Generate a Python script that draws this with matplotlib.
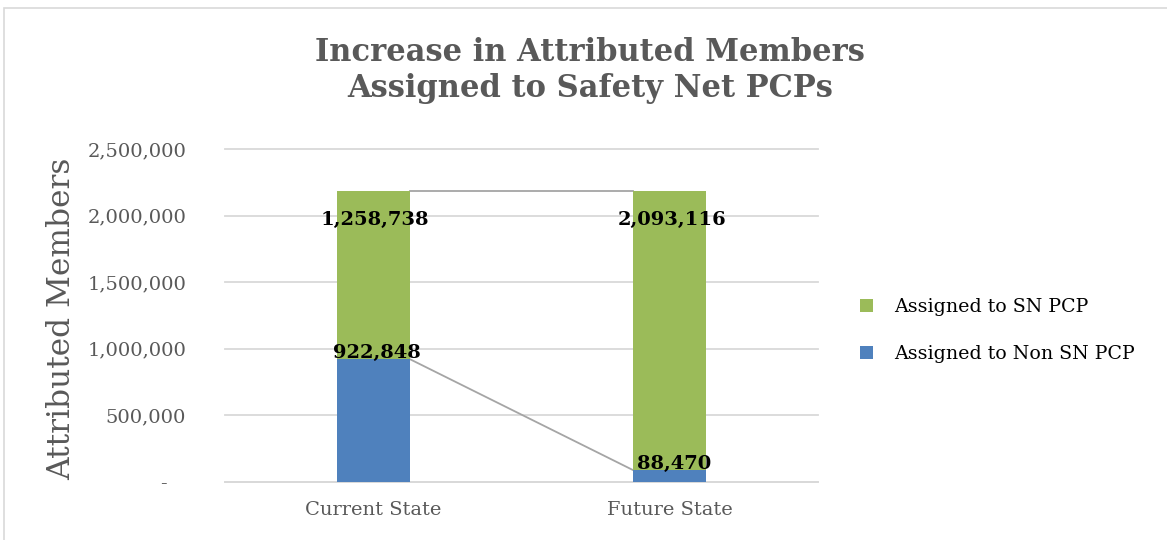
import matplotlib.pyplot as plt
from matplotlib.patches import Rectangle
from matplotlib.ticker import FuncFormatter

# data
categories = ['Current State', 'Future State']
non_sn_pcp = [922848, 88470]
sn_pcp = [1258738, 2093116]
series_names = ['Assigned to Non SN PCP', 'Assigned to SN PCP']

green = '#9BBB59'
blue = '#4F81BD'
grey_txt = '#595959'

plt.rcParams['font.family'] = ['DejaVu Serif']

W, H = 1167, 540
fig = plt.figure(figsize=(W / 100, H / 100), dpi=100)

# light frame round the chart area (cut off at right and bottom)
fig.patches.append(Rectangle((4 / W, -0.1), 1.2, 1 - 8 / H + 0.1, transform=fig.transFigure,
                             fill=False, edgecolor='#D9D9D9', linewidth=1.2))

ax = fig.add_axes([225 / W, (H - 482) / H, (818 - 225) / W, (482 - 149) / H])

x = list(range(len(categories)))
width = 0.246
b1 = ax.bar(x, non_sn_pcp, width, color=blue, label=series_names[0], zorder=3)
totals = [a + b for a, b in zip(non_sn_pcp, sn_pcp)]
b2 = ax.bar(x, sn_pcp, width, bottom=non_sn_pcp, color=green, label=series_names[1], zorder=3)

# series lines joining the stacked segments
ax.plot([x[0] + width / 2, x[1] - width / 2], non_sn_pcp, color='#A5A5A5', lw=1.3, zorder=2)
ax.plot([x[0] + width / 2, x[1] - width / 2], totals, color='#A5A5A5', lw=1.3, zorder=2)

# value labels
for i in x:
    ax.annotate(f'{sn_pcp[i]:,}', xy=(i, totals[i]), xytext=(2, -29), textcoords='offset pixels',
                ha='center', va='center', fontsize=14, fontweight='bold', color='black', zorder=5)
    ax.annotate(f'{non_sn_pcp[i]:,}', xy=(i, non_sn_pcp[i]), xytext=(4, 6), textcoords='offset pixels',
                ha='center', va='center', fontsize=14, fontweight='bold', color='black', zorder=5)

ax.set_xlim(-0.5, 1.5)
ax.set_ylim(0, 2500000)
ax.set_yticks(range(0, 2500001, 500000))
ax.yaxis.set_major_formatter(FuncFormatter(lambda v, p: '-   ' if v == 0 else f'{int(v):,}'))
ax.set_xticks(x)
ax.set_xticklabels(categories)
ax.tick_params(axis='both', length=0, labelsize=14, labelcolor=grey_txt)
ax.tick_params(axis='y', pad=28)
ax.tick_params(axis='x', pad=14)
ax.grid(axis='y', color='#D9D9D9', lw=1.3, zorder=0)
for gl in ax.get_ygridlines():
    gl.set_clip_on(False)
for s in ['top', 'right', 'left']:
    ax.spines[s].set_visible(False)
ax.spines['bottom'].set_color('#D9D9D9')
ax.spines['bottom'].set_linewidth(1.3)

fig.text(62 / W, 1 - 319 / H, 'Attributed Members', rotation=90, ha='center', va='center',
         fontsize=22.5, color=grey_txt)

fig.text(590 / W, 1 - 37 / H, 'Increase in Attributed Members\nAssigned to Safety Net PCPs',
         ha='center', va='top', fontsize=22, fontweight='bold', color=grey_txt, linespacing=1.2)

handles = [b2, b1]
fig.legend(handles, [series_names[1], series_names[0]], loc='center left',
           bbox_to_anchor=(860 / W, 1 - 330.5 / H), frameon=False, fontsize=13.7,
           handlelength=0.68, handleheight=0.68, handletextpad=1.1, labelspacing=1.5,
           borderpad=0, borderaxespad=0)

fig.savefig('out.png', dpi=100)
